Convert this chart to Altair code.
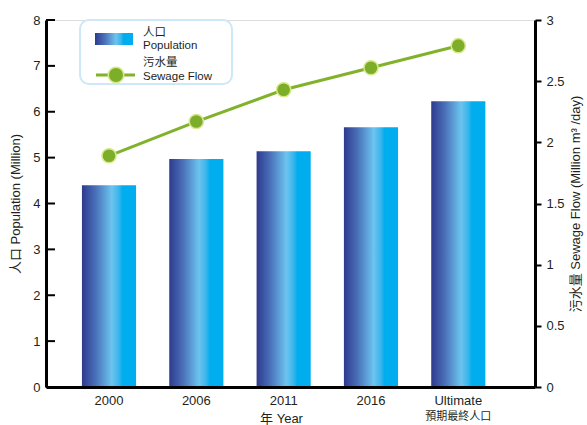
import altair as alt
import pandas as pd

categories = ["2000", "2006", "2011", "2016", "Ultimate"]
population = [4.40, 4.97, 5.14, 5.66, 6.23]
sewage = [1.89, 2.17, 2.43, 2.61, 2.79]
pop_ticks = [0, 1, 2, 3, 4, 5, 6, 7, 8]
flow_ticks = [0, 0.5, 1, 1.5, 2, 2.5, 3]
sub_label = ["預期最終人口"]

W, H = 489, 367
FONT = "Liberation Sans, Arial, Noto Sans CJK TC, sans-serif"
INK = "#231f20"
GREEN = "#7cae2a"

df = pd.DataFrame({"cat": categories, "pop": population, "flow": sewage})
ticks_df = pd.DataFrame({"v": pop_ticks})
sub_df = pd.DataFrame({"cat": ["Ultimate"], "t": sub_label})
one = pd.DataFrame({"a": [0]})

grad = alt.Gradient(
    gradient="linear",
    stops=[
        alt.GradientStop(color="#2e3a8e", offset=0),
        alt.GradientStop(color="#4a6fb8", offset=0.25),
        alt.GradientStop(color="#6cc4ef", offset=0.55),
        alt.GradientStop(color="#3cb5ec", offset=0.68),
        alt.GradientStop(color="#00aeef", offset=0.75),
        alt.GradientStop(color="#00aeef", offset=1),
    ],
    x1=0, x2=1, y1=0, y2=0,
)

xscale = alt.Scale(domain=categories, paddingInner=0.38, paddingOuter=0.49, align=0.42)
xenc = alt.X(
    "cat:N", scale=xscale, sort=categories,
    axis=alt.Axis(
        title="年 Year", labelAngle=0, ticks=False, domainWidth=3, domainColor="black",
        labelFontSize=13, labelPadding=7, labelColor=INK, labelFont=FONT,
        titleFontSize=13, titleFontWeight="normal", titleColor=INK, titleFont=FONT,
        titleX=235, titleY=31, titleBaseline="middle", titleAlign="center", zindex=1,
    ),
)

popscale = alt.Scale(domain=[0, 8], nice=False)
flowscale = alt.Scale(domain=[0, 3], nice=False)

bars = alt.Chart(df).mark_bar(color=grad).encode(
    x=xenc,
    y=alt.Y("pop:Q", scale=popscale, axis=alt.Axis(
        title="人口 Population (Million)", values=pop_ticks, ticks=False, grid=False,
        domainWidth=3, domainColor="black", labelFontSize=13, labelPadding=6,
        labelColor=INK, labelFont=FONT, titleFontSize=13, titleFontWeight="normal",
        titleColor=INK, titleFont=FONT, titlePadding=10, zindex=1,
    )),
)

left_ticks = alt.Chart(ticks_df).mark_rule(color="black", strokeWidth=2).encode(
    y=alt.Y("v:Q", scale=popscale),
    x=alt.value(0), x2=alt.value(9),
)

pop_group = alt.layer(bars, left_ticks)

line = alt.Chart(df).mark_line(color="#80b22b", strokeWidth=3).encode(
    x=xenc,
    y=alt.Y("flow:Q", scale=flowscale, axis=alt.Axis(
        orient="right", title="污水量  Sewage Flow (Million m³ /day)", values=flow_ticks,
        format="~g",
        grid=False, domainWidth=3, domainColor="black", tickColor="black", tickWidth=2,
        tickSize=6, labelFontSize=13, labelPadding=5, labelColor=INK, labelFont=FONT,
        titleFontSize=13, titleFontWeight="normal", titleColor=INK, titleFont=FONT,
        titleAngle=270, titlePadding=18, zindex=1,
    )),
)
points = alt.Chart(df).mark_point(
    filled=True, size=200, fill=GREEN, stroke="#d8e88c", strokeWidth=1.5, opacity=1
).encode(x=xenc, y=alt.Y("flow:Q", scale=flowscale))

flow_group = alt.layer(line, points)

sub = alt.Chart(sub_df).mark_text(fontSize=11, color=INK, font=FONT, baseline="middle").encode(
    x=xenc, y=alt.value(H + 30), text="t:N"
)

# legend
box = alt.Chart(one).mark_rect(fill="white", stroke="#cde8f8", strokeWidth=2, cornerRadius=9).encode(
    x=alt.value(34), x2=alt.value(186), y=alt.value(0), y2=alt.value(64)
)
swatch = alt.Chart(one).mark_rect(color=grad).encode(
    x=alt.value(49), x2=alt.value(87), y=alt.value(13), y2=alt.value(25)
)
leg_line = alt.Chart(one).mark_rule(color="#80b22b", strokeWidth=3).encode(
    x=alt.value(50), x2=alt.value(89), y=alt.value(55)
)
leg_pt = alt.Chart(one).mark_point(
    filled=True, size=240, fill=GREEN, stroke="#d8e88c", strokeWidth=1.5, opacity=1
).encode(x=alt.value(70), y=alt.value(55))

def ltext(s, y):
    return alt.Chart(one).mark_text(
        align="left", baseline="middle", fontSize=11.5, color=INK, font=FONT, text=s
    ).encode(x=alt.value(97), y=alt.value(y))

legend = alt.layer(box, swatch, leg_line, leg_pt,
                   ltext("人口", 13), ltext("Population", 25.5),
                   ltext("污水量", 43), ltext("Sewage Flow", 57))

chart = alt.layer(pop_group, flow_group, sub, legend).resolve_scale(y="independent").properties(
    width=W, height=H,
    autosize=alt.AutoSizeParams(type="none"),
    padding={"left": 46, "top": 20, "right": 52, "bottom": 38},
).configure_view(stroke=None).configure(background="white")

chart.save("out.html", embed_options={"renderer": "svg", "actions": False})
